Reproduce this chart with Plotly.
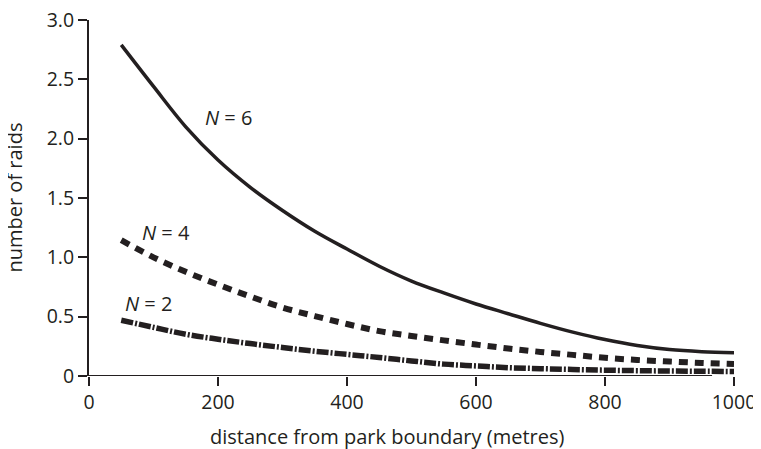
import plotly.graph_objects as go

# ---- data ----
distance = [50, 100, 150, 200, 250, 300, 350, 400, 450, 500, 550, 600, 650,
            700, 750, 800, 850, 900, 950, 1000]
raids_n6 = [2.79, 2.44, 2.10, 1.82, 1.59, 1.395, 1.22, 1.07, 0.925, 0.80, 0.70,
            0.607, 0.525, 0.444, 0.37, 0.307, 0.257, 0.223, 0.205, 0.196]
raids_n4 = [1.145, 1.00, 0.878, 0.77, 0.67, 0.577, 0.505, 0.438, 0.378, 0.337,
            0.30, 0.265, 0.232, 0.203, 0.178, 0.153, 0.135, 0.122, 0.11, 0.101]
raids_n2 = [0.47, 0.41, 0.352, 0.31, 0.273, 0.24, 0.209, 0.182, 0.156, 0.127,
            0.10, 0.085, 0.07, 0.062, 0.055, 0.049, 0.045, 0.042, 0.04, 0.038]

x_ticks = [0, 200, 400, 600, 800, 1000]
x_tick_labels = ["0", "200", "400", "600", "800", "1000"]
y_ticks = [0, 0.5, 1.0, 1.5, 2.0, 2.5, 3.0]
y_tick_labels = ["0", "0.5", "1.0", "1.5", "2.0", "2.5", "3.0"]

series_labels = ["<i>N</i> = 6", "<i>N</i> = 4", "<i>N</i> = 2"]
label_x = [217, 120, 93]
label_y = [2.18, 1.21, 0.61]

x_axis_end = 966  # the drawn x-axis line stops short of 1000

INK = "#231f20"
FONT = "Open Sans, Liberation Sans, Arial, sans-serif"

fig = go.Figure()
fig.add_trace(go.Scatter(x=distance, y=raids_n6, mode="lines",
                         line=dict(color=INK, width=3.5, shape="spline"),
                         showlegend=False, hoverinfo="skip"))
fig.add_trace(go.Scatter(x=distance, y=raids_n4, mode="lines",
                         line=dict(color=INK, width=6, dash="9px,7px", shape="spline"),
                         showlegend=False, hoverinfo="skip"))
fig.add_trace(go.Scatter(x=distance, y=raids_n2, mode="lines",
                         line=dict(color=INK, width=5.5, dash="12px,2px,2px,2px",
                                   shape="spline"),
                         showlegend=False, hoverinfo="skip"))

for txt, lx, ly in zip(series_labels, label_x, label_y):
    fig.add_annotation(x=lx, y=ly, xref="x", yref="y", text=txt, showarrow=False,
                       font=dict(family=FONT, size=20, color=INK),
                       xanchor="center", yanchor="middle")

# axis titles
fig.add_annotation(x=0.4624, y=-0.17, xref="paper", yref="paper",
                   text="distance from park boundary (metres)", showarrow=False,
                   font=dict(family=FONT, size=20, color=INK),
                   xanchor="center", yanchor="middle")
fig.add_annotation(x=-0.117, y=0.5, xref="paper", yref="paper",
                   text="number of raids", showarrow=False, textangle=-90,
                   borderpad=0,
                   font=dict(family=FONT, size=20, color=INK),
                   xanchor="center", yanchor="middle")

# x-axis line (shorter than the full range, as in the reference)
fig.add_shape(type="line", xref="x", yref="y", x0=0, x1=x_axis_end, y0=0, y1=0,
              line=dict(color=INK, width=2), layer="above")

# the page body adds an 8px offset, so the figure is sized to fit the window
fig.update_layout(
    width=753, height=441,
    margin=dict(l=81, r=27, t=12, b=73, autoexpand=False),
    paper_bgcolor="white", plot_bgcolor="white",
    font=dict(family=FONT, color=INK),
    xaxis=dict(range=[0, 1000], tickvals=x_ticks, ticktext=x_tick_labels,
               showgrid=False, zeroline=False, showline=False, automargin=False,
               ticklabeloverflow="allow",
               ticks="outside", ticklen=9, tickwidth=2, tickcolor=INK,
               tickfont=dict(family=FONT, size=19.5, color=INK)),
    yaxis=dict(range=[0, 3.0], tickvals=y_ticks, ticktext=y_tick_labels,
               showgrid=False, zeroline=False, showline=True, automargin=False,
               ticklabeloverflow="allow",
               linecolor=INK, linewidth=2,
               ticks="outside", ticklen=9, tickwidth=2, tickcolor=INK,
               tickfont=dict(family=FONT, size=19.5, color=INK)),
)

fig.write_html("out.html")
